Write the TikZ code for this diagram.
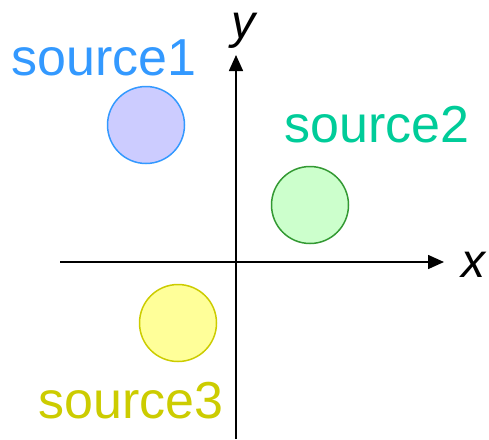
\documentclass[tikz,border=0pt]{standalone}
\usepackage{fontspec}
\setmainfont{Liberation Sans}
\usetikzlibrary{arrows.meta}
\definecolor{cblue}{HTML}{3399FF}
\definecolor{cbluefill}{HTML}{CCCCFF}
\definecolor{cteal}{HTML}{00CC99}
\definecolor{cgreen}{HTML}{339933}
\definecolor{cgreenfill}{HTML}{CCFFCC}
\definecolor{cyel}{HTML}{CCCC00}
\definecolor{cyelfill}{HTML}{FFFF99}
\begin{document}
\begin{tikzpicture}[x=1pt,y=-1pt,
  src/.style={circle,minimum size=77pt,inner sep=0pt,line width=1.5pt},
  lbl/.style={anchor=base,inner sep=0pt,font=\fontsize{52}{60}\selectfont},
  axlbl/.style={inner sep=0pt,font=\fontsize{48}{56}\selectfont\itshape},
  axis/.style={line width=1.6pt,-{Triangle[length=16pt,width=14pt]}}]
\useasboundingbox (0,0) rectangle (489,439);
\coordinate (xs) at (60,262);
\coordinate (xe) at (444,262);
\coordinate (ys) at (236,439);
\coordinate (ye) at (236,55);
\draw[axis] (xs) -- (xe);
\draw[axis] (ys) -- (ye);
\node[axlbl,anchor=base] (xl) at (473,277) {x};
\node[axlbl,anchor=base] (yl) at (243,38) {y};
\node[src,draw=cblue,fill=cbluefill] (c1) at (146,125) {};
\node[src,draw=cgreen,fill=cgreenfill] (c2) at (310,205) {};
\node[src,draw=cyel,fill=cyelfill] (c3) at (178,323) {};
\node[lbl,text=cblue] (t1) at (104,75) {source1};
\node[lbl,text=cteal] (t2) at (377,142) {source2};
\node[lbl,text=cyel] (t3) at (131,418) {source3};
\end{tikzpicture}
\end{document}
